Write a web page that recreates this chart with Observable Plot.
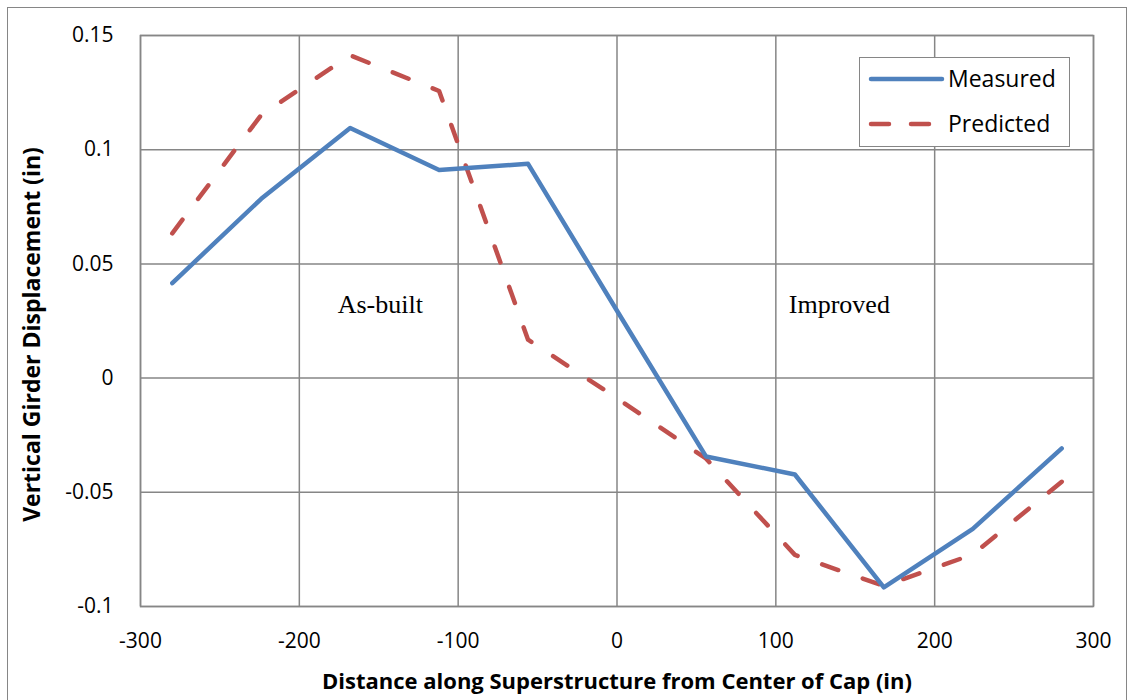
<!DOCTYPE html>
<html>
<head>
<meta charset="utf-8">
<script src="https://cdn.jsdelivr.net/npm/d3@7"></script>
<script src="https://cdn.jsdelivr.net/npm/@observablehq/plot@0.6"></script>
<style>
  html, body { margin: 0; padding: 0; background: #fff; }
  #wrap { position: relative; width: 1130px; height: 700px; overflow: hidden; background: #fff; }
  #border { position: absolute; left: 7px; top: 7px; width: 1120px; height: 720px; border: 1.5px solid #868686; box-sizing: border-box; pointer-events: none; }
  #legend { position: absolute; left: 859px; top: 57px; width: 211px; height: 90px; border: 1.5px solid #868686; box-sizing: border-box; background: #fff; }
</style>
</head>
<body>
<div id="wrap">
  <div id="border"></div>
  <div id="chart"></div>
  <div id="legend"></div>
</div>
<script>
// Data
const distance = [-280, -224, -168, -112, -56, 0, 56, 112, 168, 224, 280];
const measured = [0.0416, 0.0785, 0.1095, 0.0911, 0.0938, 0.0295, -0.0343, -0.0422, -0.0916, -0.0660, -0.0308];
const predicted = [0.0634, 0.1152, 0.1413, 0.1257, 0.0168, -0.0088, -0.0352, -0.0774, -0.0910, -0.0772, -0.0454];
const seriesNames = ["Measured", "Predicted"];
const xTicks = [-300, -200, -100, 0, 100, 200, 300];
const yTicks = [-0.1, -0.05, 0, 0.05, 0.1, 0.15];
const annoLabels = ["As-built", "Improved"];
const annoX = [-149, 140];
const annoY = [0.032, 0.032];
const xTitle = "Distance along Superstructure from Center of Cap (in)";
const yTitle = "Vertical Girder Displacement (in)";

const colors = {Measured: "#4F81BD", Predicted: "#C0504D"};
const gridColor = "#868686";

const mRows = distance.map((d, i) => ({x: d, y: measured[i]}));
const pRows = distance.map((d, i) => ({x: d, y: predicted[i]}));
const annoRows = annoLabels.map((t, i) => ({t, x: annoX[i], y: annoY[i]}));

const chart = Plot.plot({
  width: 1130,
  height: 700,
  marginLeft: 140,
  marginRight: 37,
  marginTop: 35,
  marginBottom: 94,
  style: {fontFamily: "'Open Sans', sans-serif", fontSize: "21px", color: "#000", background: "transparent"},
  x: {domain: [-300, 300], label: null},
  y: {domain: [-0.1, 0.15], label: null},
  marks: [
    Plot.gridX(xTicks, {stroke: gridColor, strokeOpacity: 1, strokeWidth: 1.5}),
    Plot.gridY(yTicks, {stroke: gridColor, strokeOpacity: 1, strokeWidth: 1.5}),
    Plot.frame({stroke: gridColor, strokeWidth: 1.5}),
    Plot.axisX({ticks: xTicks, tickSize: 0, tickPadding: 27, tickFormat: d => String(d), label: null, fontSize: 21}),
    Plot.axisY({ticks: yTicks, tickSize: 0, tickPadding: 27, tickFormat: d => String(d), label: null, fontSize: 21}),
    Plot.text(annoRows, {x: "x", y: "y", text: "t", fontFamily: "'Liberation Serif', 'Times New Roman', serif", fontSize: 26, fill: "#000"}),
    Plot.line(pRows, {x: "x", y: "y", stroke: colors.Predicted, strokeWidth: 4.5, strokeDasharray: "17,26", strokeLinecap: "round", strokeLinejoin: "round"}),
    Plot.line(mRows, {x: "x", y: "y", stroke: colors.Measured, strokeWidth: 4.5, strokeLinejoin: "round", strokeLinecap: "round"}),
    Plot.text([xTitle], {frameAnchor: "bottom", dy: 82, fontWeight: "bold", fontSize: 22, fill: "#000"}),
    Plot.text([yTitle], {frameAnchor: "left", textAnchor: "middle", dx: -108, dy: 13.5, rotate: -90, fontWeight: "bold", fontSize: 23, fill: "#000"})
  ]
});
document.getElementById("chart").appendChild(chart);

// Legend
const lg = d3.select("#legend").append("svg").attr("width", 208).attr("height", 87)
  .style("font-family", "'Open Sans', sans-serif").style("font-size", "23px");
seriesNames.forEach((name, i) => {
  const y = 21 + i * 45;
  lg.append("line").attr("x1", 11).attr("x2", 82).attr("y1", y).attr("y2", y)
    .attr("stroke", colors[name]).attr("stroke-width", 4.5).attr("stroke-linecap", "round")
    .attr("stroke-dasharray", name === "Predicted" ? "18,22" : null);
  lg.append("text").attr("x", 88).attr("y", y).attr("dy", "0.36em").attr("fill", "#000").text(name);
});
</script>
</body>
</html>
